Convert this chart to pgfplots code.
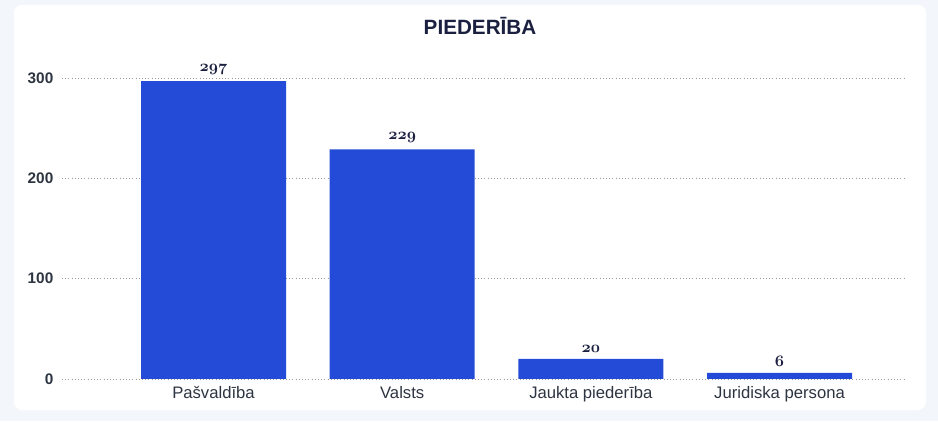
\documentclass[border=0pt]{standalone}
\usepackage{pgfplots}
\pgfplotsset{compat=1.18}
\usepackage{fontspec}
\setmainfont{Liberation Sans}
\definecolor{barblue}{HTML}{234BD8}
\definecolor{bgout}{HTML}{F3F6FB}
\definecolor{titlec}{HTML}{1B2040}
\definecolor{labc}{HTML}{2E3542}
\newcommand{\osn}[1]{{\usefont{OML}{cmm}{b}{it}#1}}
\begin{document}
\begin{tikzpicture}[x=0.75pt,y=0.75pt]
\fill[bgout] (0,0) rectangle (938,421);
\fill[white,rounded corners=6pt] (14,11) rectangle (926,416);
\node[font=\bfseries\fontsize{15.5}{17}\selectfont,text=titlec] at (480,395) {PIEDERĪBA};
\begin{axis}[
  at={(46.5pt,31.5pt)}, anchor=south west,
  scale only axis,
  width=632.25pt, height=248.25pt,
  ymin=0, ymax=330,
  xmin=-0.803, xmax=3.665,
  axis line style={draw=none},
  ytick={0,100,200,300},
  xtick={0,1,2,3},
  xticklabels={Pašvaldība,Valsts,Jaukta piederība,Juridiska persona},
  ymajorgrids=true,
  grid style={dotted, color=gray!80, line width=0.7pt},
  major tick length=0pt,
  yticklabel style={font=\bfseries\fontsize{11.5}{13}\selectfont, text=labc, xshift=-3pt},
  xticklabel style={font=\fontsize{12.5}{14}\selectfont, text=labc, yshift=-2pt},
  /pgf/number format/assume math mode=true,
  ybar, bar width=108.75pt,
  nodes near coords={\osn{\pgfmathprintnumber{\pgfplotspointmeta}}},
  nodes near coords style={font=\fontsize{12}{14}\selectfont, text=titlec, yshift=1.5pt},
  clip=false,
]
\addplot[fill=barblue, draw=none] coordinates {(0,297) (1,229) (2,20) (3,6)};
\end{axis}
\end{tikzpicture}
\end{document}
